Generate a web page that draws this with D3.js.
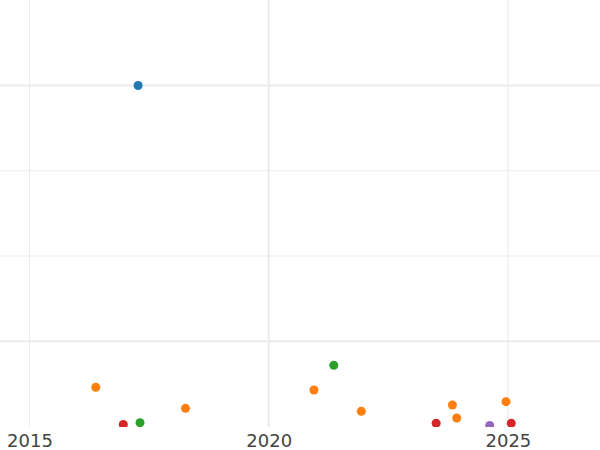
<!DOCTYPE html>
<html>
<head>
<meta charset="utf-8">
<script src="https://cdn.jsdelivr.net/npm/d3@7"></script>
<style>
  html, body { margin: 0; padding: 0; background: #fff; }
  svg { display: block; }
</style>
</head>
<body>
<script>
// ---- data ----
const seriesNames = ["blue", "orange", "green", "red", "purple"];
const seriesColors = ["#1f77b4", "#ff7f0e", "#2ca02c", "#d62728", "#9467bd"];
const blueX = [2017.27];
const blueY = [4.0];
const orangeX = [2016.385, 2018.26, 2020.946, 2021.935, 2023.84, 2023.93, 2024.96];
const orangeY = [0.46, 0.213, 0.428, 0.178, 0.252, 0.10, 0.291];
const greenX = [2017.31, 2021.36];
const greenY = [0.045, 0.718];
const redX = [2016.96, 2023.50, 2025.07];
const redY = [0.023, 0.038, 0.038];
const purpleX = [2024.62];
const purpleY = [0.012];
const xTickValues = [2015, 2020, 2025];
const yTickValues = [1, 2, 3, 4];

const seriesX = [blueX, orangeX, greenX, redX, purpleX];
const seriesY = [blueY, orangeY, greenY, redY, purpleY];
const points = [];
seriesNames.forEach((name, i) => {
  seriesX[i].forEach((x, j) => points.push({ series: i, x: x, y: seriesY[i][j] }));
});

// ---- layout ----
const W = 600, H = 450;
const plotTop = 0, plotBottom = 427;
const x = d3.scaleLinear().domain([2014.383, 2026.925]).range([0, W]);
const y = d3.scaleLinear().domain([0, 5]).range([426.5, 0.25]);

const svg = d3.select("body").append("svg").attr("width", W).attr("height", H);

svg.append("defs").append("clipPath").attr("id", "plotclip")
  .append("rect").attr("x", 0).attr("y", plotTop).attr("width", W).attr("height", plotBottom - plotTop);

// gridlines
const grid = svg.append("g").attr("clip-path", "url(#plotclip)");
grid.selectAll("line.h").data(yTickValues).join("line")
  .attr("class", "h")
  .attr("x1", 0).attr("x2", W)
  .attr("y1", d => y(d)).attr("y2", d => y(d))
  .attr("stroke", "#ebebeb")
  .attr("stroke-width", d => (d === 1 || d === 4) ? 2 : 1.1);
grid.selectAll("line.v").data(xTickValues).join("line")
  .attr("class", "v")
  .attr("x1", d => x(d)).attr("x2", d => x(d))
  .attr("y1", plotTop).attr("y2", plotBottom)
  .attr("stroke", "#ebebeb")
  .attr("stroke-width", d => d === 2020 ? 2 : 1.1);

// points
svg.append("g").attr("clip-path", "url(#plotclip)")
  .selectAll("circle").data(points).join("circle")
  .attr("cx", d => x(d.x))
  .attr("cy", d => y(d.y))
  .attr("r", 4.5)
  .attr("fill", d => seriesColors[d.series]);

// x axis labels
const xAxis = d3.axisBottom(x).tickValues(xTickValues).tickFormat(d3.format("d")).tickSize(0).tickPadding(0);
const ax = svg.append("g").attr("transform", `translate(0,${plotBottom})`).call(xAxis);
ax.select(".domain").remove();
ax.selectAll("text")
  .attr("dy", null)
  .attr("y", 20)
  .attr("fill", "#444")
  .style("font-family", "'DejaVu Sans', sans-serif")
  .style("font-size", "18px");
</script>
</body>
</html>
